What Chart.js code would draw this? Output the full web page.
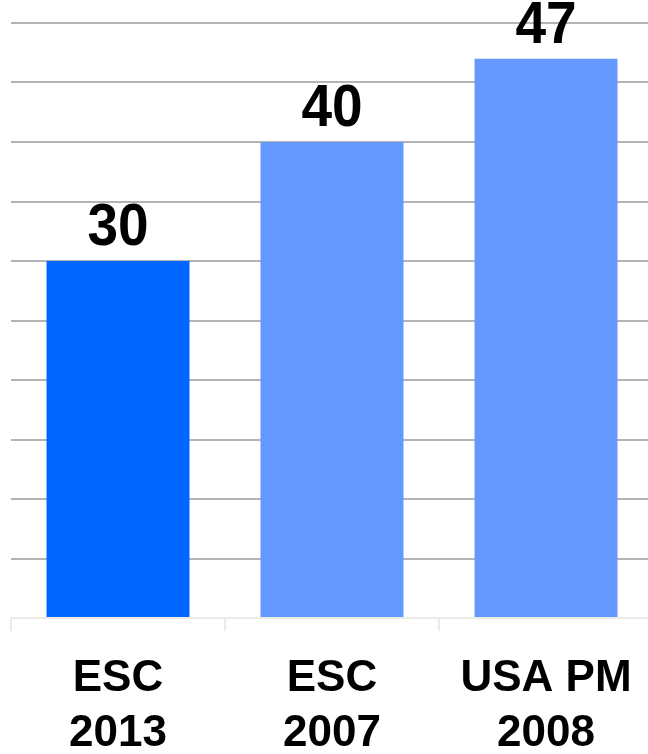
<!DOCTYPE html>
<html>
<head>
<meta charset="utf-8">
<script src="https://cdn.jsdelivr.net/npm/chart.js@4/dist/chart.umd.min.js"></script>
<style>
  html, body { margin: 0; padding: 0; background: #ffffff; overflow: hidden; }
  #frame { width: 648px; height: 754px; overflow: hidden; }
  #wrap { width: 654px; height: 783px; }
</style>
</head>
<body>
<div id="frame"><div id="wrap"><canvas id="chart" width="654" height="783"></canvas></div></div>
<script>
// Guideline comparison
const categories = [["ESC", "2013"], ["ESC", "2007"], ["USA PM", "2008"]];
const values = [30, 40, 47];
const barColors = ["#0066ff", "#6699ff", "#6699ff"];
const axisMax = 50;
const axisStep = 5;

// Draws each bar's value above it, slightly tall type
const valueLabels = {
  id: "valueLabels",
  afterDatasetsDraw(chart) {
    const ctx = chart.ctx;
    const meta = chart.getDatasetMeta(0);
    const stretch = 1.08;
    ctx.save();
    ctx.fillStyle = "#000000";
    ctx.font = "bold 55px 'Liberation Sans', Arial, sans-serif";
    ctx.textAlign = "center";
    ctx.textBaseline = "alphabetic";
    meta.data.forEach((bar, i) => {
      ctx.save();
      ctx.translate(bar.x, bar.y - 16);
      ctx.scale(1, stretch);
      ctx.fillText(String(chart.data.datasets[0].data[i]), 0, 0);
      ctx.restore();
    });
    ctx.restore();
  }
};

new Chart(document.getElementById("chart"), {
  type: "bar",
  data: {
    labels: categories,
    datasets: [{
      data: values,
      backgroundColor: barColors,
      borderWidth: 0,
      barPercentage: 0.668,
      categoryPercentage: 1.0
    }]
  },
  options: {
    responsive: false,
    animation: false,
    layout: { padding: { left: 11, right: 1, top: 23, bottom: 2 } },
    plugins: { legend: { display: false }, tooltip: { enabled: false } },
    scales: {
      x: {
        grid: {
          drawOnChartArea: false,
          drawTicks: true,
          tickLength: 13,
          color: "#ecece6",
          lineWidth: 2
        },
        border: { display: true, color: "#ecece6", width: 2 },
        ticks: {
          color: "#000000",
          padding: 20,
          font: { family: "'Liberation Sans', Arial, sans-serif", size: 44, weight: "bold", lineHeight: 1.25 },
          maxRotation: 0
        }
      },
      y: {
        min: 0,
        max: axisMax,
        ticks: { display: false, stepSize: axisStep },
        border: { display: false },
        grid: {
          drawTicks: false,
          color: (c) => (c.tick && c.tick.value === 0 ? "#ecece6" : "#b4b4b4"),
          lineWidth: 2
        }
      }
    }
  },
  plugins: [valueLabels]
});
</script>
</body>
</html>
